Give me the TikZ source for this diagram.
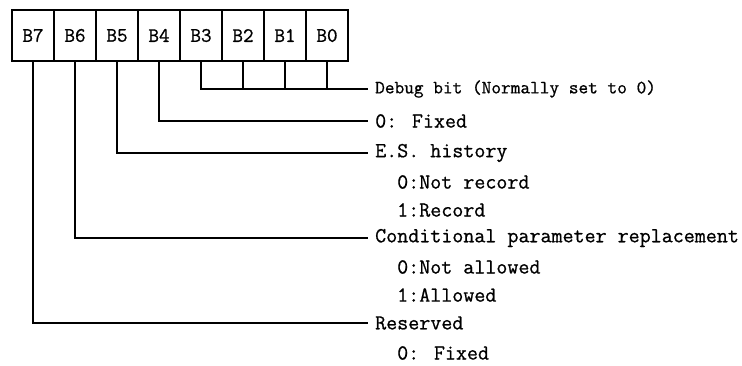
\documentclass[tikz,border=0pt]{standalone}
\usepackage{fontspec}
\newfontfamily\codefont{Latin Modern Mono}[FakeBold=0.8]
\usetikzlibrary{positioning}
\tikzset{
  bitbox/.style={draw,line width=1.1pt,minimum width=42pt,minimum height=51pt,inner sep=0pt,font=\codefont\fontsize{20.6}{23}\selectfont},
  field/.style={anchor=west,inner xsep=7pt,inner ysep=0pt,font=\codefont\fontsize{21.4}{24}\selectfont},
  wire/.style={line width=1.1pt,draw=black}
}
\begin{document}
\begin{tikzpicture}[
    x=1pt,y=-1pt,
    smallfield/.style={field,font=\codefont\fontsize{18.8}{21}\selectfont},
    option/.style={anchor=west,inner sep=0pt,font=\codefont\fontsize{21.4}{24}\selectfont}
  ]
    \useasboundingbox (0,0) rectangle (742,365);

    % register bits
    \foreach \i/\b in {0/7,1/6,2/5,3/4,4/3,5/2,6/1,7/0} {
      \node[bitbox] (b\b) at (33+42*\i,35.5) {B\b};
    }

    % field labels
    \node[smallfield] (debug) at (368,89) {Debug bit (Normally set to 0)};
    \node[field] (fixA) at (368,121) {0: Fixed};
    \node[field] (hist) at (368,153) {E.S. history};
    \node[option] (histA) at (397,182) {0:Not record};
    \node[option] (histB) at (397,210) {1:Record};
    \node[field] (cond) at (368,238) {Conditional parameter replacement};
    \node[option] (condA) at (397,267) {0:Not allowed};
    \node[option] (condB) at (397,295) {1:Allowed};
    \node[field] (resv) at (368,323) {Reserved};
    \node[option] (resvA) at (397,353) {0: Fixed};

    % connectors
    \draw[wire] (b3.south) |- (debug.west);
    \foreach \b in {2,1,0}
      \draw[wire] (b\b.south) -- (b\b.south |- debug.west);
    \draw[wire] (b4.south) |- (fixA.west);
    \draw[wire] (b5.south) |- (hist.west);
    \draw[wire] (b6.south) |- (cond.west);
    \draw[wire] (b7.south) |- (resv.west);
\end{tikzpicture}
\end{document}
